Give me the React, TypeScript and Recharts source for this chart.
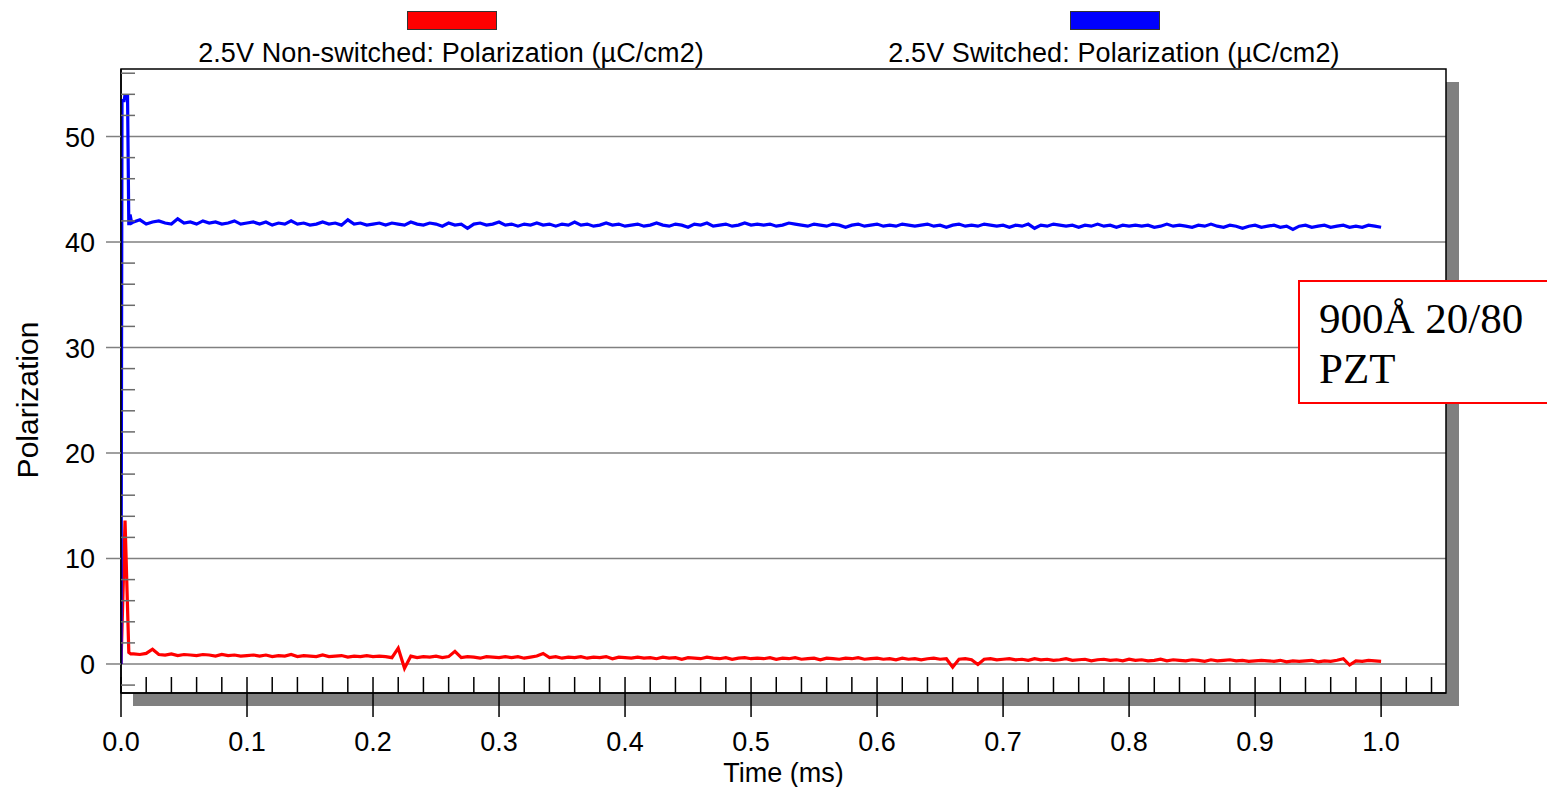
import { LineChart, Line, XAxis, YAxis, CartesianGrid, ReferenceArea } from "recharts";

// time between stored samples after the settling transient (ms)
const SAMPLE_STEP = 0.005;
const TAIL_START = 0.01;

// settling transient right after the read pulse
const switchedHeadTime = [0, 0.0008, 0.0025, 0.003, 0.0052, 0.0062, 0.0072, 0.0085];
const switchedHeadPol = [0, 53.4, 53.4, 53.8, 53.8, 41.6, 42.6, 41.8];
const nonSwitchedHeadTime = [0, 0.0032, 0.0062, 0.0078];
const nonSwitchedHeadPol = [0, 13.6, 1.1, 0.95];

// 2.5V switched, 0.010 .. 1.000 ms
const switchedTail = [
  41.9, 42.1, 41.7, 41.9, 42.0, 41.8, 41.7, 42.2, 41.8, 41.9, 41.7, 42.0, 41.8, 41.9, 41.7, 41.8, 42.0, 41.7, 41.8, 41.9,
  41.7, 41.9, 41.6, 41.8, 41.7, 42.0, 41.7, 41.8, 41.6, 41.7, 41.9, 41.7, 41.8, 41.6, 42.1, 41.7, 41.8, 41.6, 41.7, 41.8,
  41.6, 41.8, 41.7, 41.6, 41.9, 41.7, 41.6, 41.8, 41.7, 41.5, 41.8, 41.6, 41.7, 41.3, 41.7, 41.8, 41.6, 41.7, 41.9, 41.6,
  41.7, 41.5, 41.7, 41.6, 41.8, 41.6, 41.7, 41.5, 41.7, 41.6, 41.9, 41.6, 41.7, 41.5, 41.6, 41.8, 41.6, 41.7, 41.5, 41.6,
  41.7, 41.5, 41.6, 41.8, 41.6, 41.5, 41.7, 41.6, 41.4, 41.7, 41.6, 41.8, 41.5, 41.6, 41.7, 41.5, 41.6, 41.8, 41.6, 41.7,
  41.6, 41.7, 41.5, 41.6, 41.8, 41.7, 41.6, 41.5, 41.7, 41.6, 41.5, 41.7, 41.6, 41.4, 41.6, 41.7, 41.5, 41.6, 41.7, 41.5,
  41.6, 41.5, 41.7, 41.6, 41.5, 41.6, 41.7, 41.5, 41.6, 41.4, 41.6, 41.7, 41.5, 41.6, 41.5, 41.7, 41.6, 41.5, 41.6, 41.4,
  41.6, 41.5, 41.7, 41.3, 41.6, 41.5, 41.7, 41.6, 41.5, 41.6, 41.4, 41.6, 41.5, 41.7, 41.5, 41.6, 41.4, 41.6, 41.5, 41.6,
  41.5, 41.6, 41.4, 41.5, 41.7, 41.5, 41.6, 41.5, 41.4, 41.6, 41.5, 41.7, 41.5, 41.4, 41.6, 41.5, 41.3, 41.5, 41.6, 41.4,
  41.5, 41.6, 41.4, 41.5, 41.2, 41.5, 41.6, 41.4, 41.5, 41.6, 41.4, 41.5, 41.6, 41.4, 41.5, 41.4, 41.6, 41.5, 41.4,
];

// 2.5V non-switched, 0.010 .. 1.000 ms
const nonSwitchedTail = [
  0.95, 0.9, 1.0, 1.4, 0.9, 0.85, 0.95, 0.8, 0.9, 0.85, 0.8, 0.9, 0.85, 0.75, 0.9, 0.8, 0.85, 0.75, 0.8, 0.85,
  0.75, 0.85, 0.7, 0.8, 0.75, 0.9, 0.7, 0.8, 0.75, 0.7, 0.85, 0.7, 0.75, 0.8, 0.65, 0.75, 0.7, 0.8, 0.7, 0.75,
  0.7, 0.6, 1.5, -0.4, 0.75, 0.6, 0.7, 0.65, 0.75, 0.6, 0.7, 1.2, 0.6, 0.7, 0.65, 0.55, 0.7, 0.65, 0.6, 0.7,
  0.6, 0.7, 0.55, 0.65, 0.75, 1.0, 0.6, 0.7, 0.55, 0.65, 0.6, 0.7, 0.55, 0.65, 0.6, 0.7, 0.5, 0.65, 0.6, 0.55,
  0.65, 0.55, 0.6, 0.5, 0.65, 0.55, 0.6, 0.45, 0.6, 0.55, 0.5, 0.65, 0.55, 0.5, 0.6, 0.45, 0.55, 0.6, 0.5, 0.55,
  0.5, 0.6, 0.45, 0.55, 0.5, 0.6, 0.45, 0.5, 0.55, 0.4, 0.55, 0.5, 0.45, 0.55, 0.5, 0.6, 0.45, 0.5, 0.55, 0.45,
  0.5, 0.4, 0.55, 0.45, 0.5, 0.4, 0.5, 0.55, 0.45, 0.5, -0.3, 0.45, 0.5, 0.4, -0.05, 0.45, 0.5, 0.4, 0.45, 0.5,
  0.4, 0.45, 0.35, 0.5, 0.4, 0.45, 0.35, 0.4, 0.5, 0.35, 0.4, 0.45, 0.3, 0.4, 0.45, 0.35, 0.4, 0.3, 0.45, 0.35,
  0.4, 0.3, 0.35, 0.45, 0.3, 0.4, 0.35, 0.3, 0.4, 0.35, 0.25, 0.4, 0.3, 0.35, 0.4, 0.3, 0.35, 0.25, 0.3, 0.35,
  0.3, 0.25, 0.35, 0.2, 0.3, 0.25, 0.3, 0.35, 0.2, 0.3, 0.25, 0.35, 0.5, -0.1, 0.3, 0.25, 0.35, 0.3, 0.25,
];

const seriesLabels = [
  "2.5V Non-switched: Polarization (µC/cm2)",
  "2.5V Switched: Polarization (µC/cm2)",
];
const seriesColors = ["#ff0000", "#0000ff"];

const xMajorTicks = [0, 0.1, 0.2, 0.3, 0.4, 0.5, 0.6, 0.7, 0.8, 0.9, 1.0];
const yMajorTicks = [0, 10, 20, 30, 40, 50];
const X_DOMAIN: [number, number] = [0, 1.0515];
const Y_DOMAIN: [number, number] = [-2.75, 56.4];

const FONT = '"Liberation Sans", Arial, sans-serif';

function buildSeries(headT: number[], headP: number[], tail: number[]) {
  const rows = headT.map((t, i) => ({ t, p: headP[i] }));
  tail.forEach((p, i) => {
    rows.push({ t: Math.round((TAIL_START + i * SAMPLE_STEP) * 10000) / 10000, p });
  });
  return rows;
}

const nonSwitched = buildSeries(nonSwitchedHeadTime, nonSwitchedHeadPol, nonSwitchedTail);
const switched = buildSeries(switchedHeadTime, switchedHeadPol, switchedTail);

// minor ticks every 0.02 ms / 2 µC/cm2, majors are labelled
const xTicks: number[] = [];
for (let i = 0; i <= 52; i++) xTicks.push(Math.round(i * 2) / 100);
const yTicks: number[] = [];
for (let v = -2; v <= 56; v += 2) yTicks.push(v);

const isMajorX = (v: number) => xMajorTicks.some((m) => Math.abs(m - v) < 1e-6);
const isMajorY = (v: number) => yMajorTicks.includes(v);

function XTick({ x, y, payload }: any) {
  const major = isMajorX(payload.value);
  return (
    <g>
      <line x1={x} x2={x} y1={y - 16} y2={major ? y + 24 : y} stroke="#000" strokeWidth={1.5} />
      {major && (
        <text x={x} y={y + 58} textAnchor="middle" fontSize={27} fontFamily={FONT} fill="#000">
          {payload.value.toFixed(1)}
        </text>
      )}
    </g>
  );
}

function YTick({ x, y, payload }: any) {
  const major = isMajorY(payload.value);
  if (!major) {
    return <line x1={x} x2={x + 14} y1={y} y2={y} stroke="#6a6a6a" strokeWidth={1.5} />;
  }
  return (
    <g>
      <line x1={x - 15} x2={x} y1={y} y2={y} stroke="#808080" strokeWidth={1.5} />
      <text x={x - 26} y={y + 10} textAnchor="end" fontSize={27} fontFamily={FONT} fill="#000">
        {payload.value}
      </text>
    </g>
  );
}

function XTitle({ viewBox }: any) {
  return (
    <text x={viewBox.x + viewBox.width / 2} y={782} textAnchor="middle" fontSize={27} fontFamily={FONT} fill="#000">
      Time (ms)
    </text>
  );
}

function YTitle() {
  return (
    <text
      x={38}
      y={400}
      transform="rotate(-90 38 400)"
      textAnchor="middle"
      fontSize={30}
      fontFamily={FONT}
      fill="#000"
    >
      Polarization
    </text>
  );
}

export default function App() {
  const legendCenters = [451, 1114];
  return (
    <div
      style={{
        position: "absolute",
        left: 0,
        top: 0,
        width: 1547,
        height: 787,
        overflow: "hidden",
        background: "#fff",
        fontFamily: FONT,
      }}
    >
      {/* drop shadow behind the plot frame */}
      <div style={{ position: "absolute", left: 133, top: 82, width: 1326, height: 624, background: "#808080" }} />

      {seriesLabels.map((label, i) => (
        <div key={label}>
          <div
            style={{
              position: "absolute",
              left: legendCenters[i] - 44,
              top: 11,
              width: 88,
              height: 17,
              background: seriesColors[i],
              border: "1px solid #333",
            }}
          />
          <div
            style={{
              position: "absolute",
              left: legendCenters[i] - 300,
              width: 600,
              top: 37,
              textAlign: "center",
              fontSize: 27,
              lineHeight: "32px",
              letterSpacing: 0.1,
              color: "#000",
              whiteSpace: "nowrap",
            }}
          >
            {label}
          </div>
        </div>
      ))}

      <div style={{ position: "absolute", left: 0, top: 0 }}>
        <LineChart width={1547} height={787} margin={{ top: 69, right: 101, bottom: 44, left: 61 }}>
          <CartesianGrid
            vertical={false}
            horizontalValues={yMajorTicks}
            stroke="#808080"
            strokeWidth={1.5}
            fill="#fff"
            fillOpacity={1}
          />
          <XAxis
            type="number"
            dataKey="t"
            domain={X_DOMAIN}
            ticks={xTicks}
            interval={0}
            allowDataOverflow
            height={50}
            tickSize={0}
            tickMargin={0}
            tickLine={false}
            axisLine={{ stroke: "#000", strokeWidth: 1.5 }}
            tick={<XTick />}
            label={<XTitle />}
          />
          <YAxis
            type="number"
            dataKey="p"
            domain={Y_DOMAIN}
            ticks={yTicks}
            interval={0}
            allowDataOverflow
            width={60}
            tickSize={0}
            tickMargin={0}
            tickLine={false}
            axisLine={{ stroke: "#000", strokeWidth: 1.5 }}
            tick={<YTick />}
            label={<YTitle />}
          />
          <Line
            data={nonSwitched}
            dataKey="p"
            type="linear"
            stroke={seriesColors[0]}
            strokeWidth={3.2}
            dot={false}
            isAnimationActive={false}
          />
          <Line
            data={switched}
            dataKey="p"
            type="linear"
            stroke={seriesColors[1]}
            strokeWidth={3.2}
            dot={false}
            isAnimationActive={false}
          />
          <ReferenceArea
            x1={X_DOMAIN[0]}
            x2={X_DOMAIN[1]}
            y1={Y_DOMAIN[0]}
            y2={Y_DOMAIN[1]}
            fill="none"
            stroke="#000"
            strokeWidth={1.5}
            ifOverflow="visible"
          />
        </LineChart>
      </div>

      <div
        style={{
          position: "absolute",
          left: 1298,
          top: 280,
          width: 280,
          height: 124,
          boxSizing: "border-box",
          border: "2px solid #ff0000",
          background: "#fff",
          fontFamily: '"Liberation Serif", "Times New Roman", serif',
          fontSize: 43,
          lineHeight: "50px",
          padding: "12px 0 0 19px",
          color: "#000",
        }}
      >
        900Å 20/80
        <br />
        PZT
      </div>
    </div>
  );
}
